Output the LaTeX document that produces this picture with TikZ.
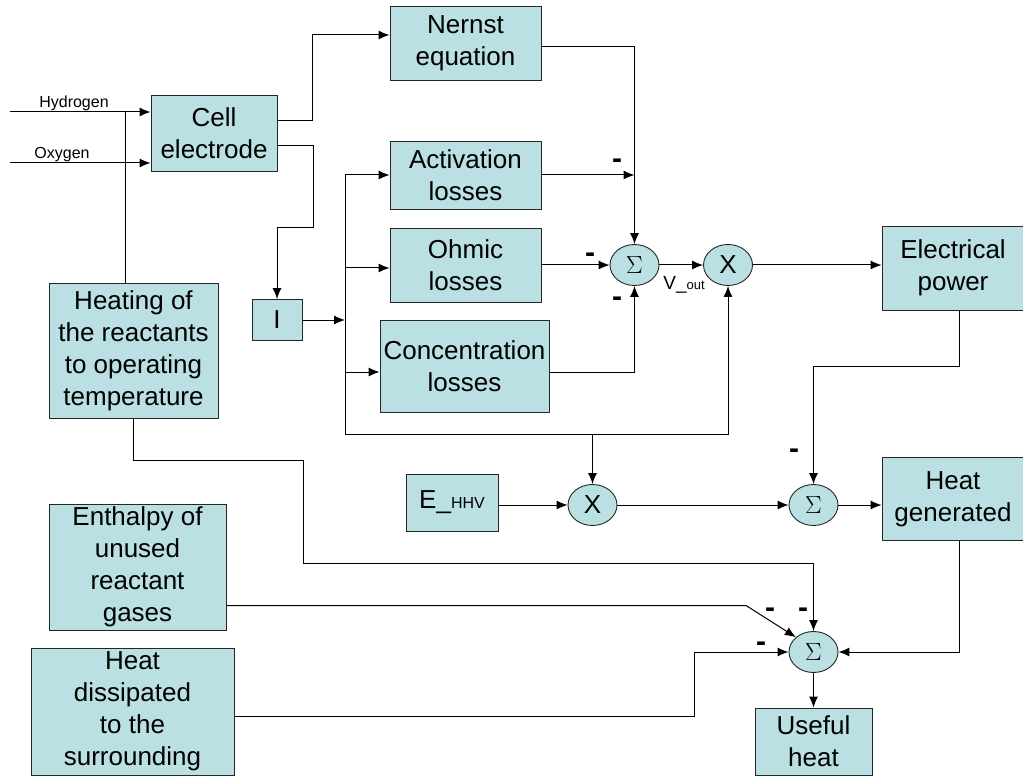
\documentclass[tikz,border=0pt]{standalone}
\usepackage{fontspec}
\setmainfont{Liberation Sans}
\usetikzlibrary{arrows.meta,shapes.geometric}
\definecolor{boxc}{RGB}{187,224,227}
\begin{document}
\begin{tikzpicture}[x=1pt,y=-1pt,
  blk/.style={draw=black!85, fill=boxc, line width=0.9pt, inner sep=0pt, align=center,
    font=\fontsize{26}{32}\selectfont},
  op/.style={ellipse, draw=black!85, fill=boxc, line width=0.9pt, minimum width=49pt, minimum height=41pt, inner sep=0pt},
  arr/.style={-{Latex[length=11pt,width=9pt]}},
  ln/.style={line width=1pt, black},
  minus/.style={font=\bfseries\fontsize{30}{30}\selectfont, inner sep=0pt},
  small/.style={font=\fontsize{16}{16}\selectfont, inner sep=0pt}]
\useasboundingbox (0,0) rectangle (1023,778);
% blocks
\node[blk, minimum width=151pt, minimum height=74pt] (nernst) at (465.5,43) {Nernst\\equation};
\node[blk, minimum width=126pt, minimum height=76pt] (cell) at (214,133) {Cell\\electrode};
\node[blk, minimum width=151pt, minimum height=68pt] (act) at (465.5,175) {Activation\\losses};
\node[blk, minimum width=151pt, minimum height=74pt] (ohm) at (465.5,265) {Ohmic\\losses};
\node[blk, minimum width=169pt, minimum height=92pt] (conc) at (464.5,366) {Concentration\\losses};
\node[blk, minimum width=50pt, minimum height=41pt] (I) at (277,320) {I};
\node[blk, minimum width=169pt, minimum height=135pt] (heat) at (133.5,350.5) {Heating of\\the reactants\\to operating\\temperature};
\node[blk, minimum width=142pt, minimum height=84pt] (elec) at (953,268) {Electrical\\power};
\node[blk, minimum width=142pt, minimum height=83pt] (hg) at (953,499) {Heat\\generated};
\node[blk, minimum width=92pt, minimum height=57pt] (ehhv) at (452,502.5) {E\_{\fontsize{16}{16}\selectfont HHV}};
\node[blk, minimum width=177pt, minimum height=126pt] (enth) at (137.5,567) {Enthalpy of\\unused\\reactant\\gases};
\node[blk, minimum width=203pt, minimum height=127pt] (diss) at (132.5,711.5) {Heat\\dissipated\\to the\\surrounding};
\node[blk, minimum width=117pt, minimum height=67pt] (useful) at (813.5,741.5) {Useful\\heat};
% operators
\node[op, font=\fontsize{23}{23}\selectfont] (sum1) at (634.5,265) {$\Sigma$};
\node[op, font=\fontsize{26}{26}\selectfont] (x1) at (728,265) {X};
\node[op, font=\fontsize{26}{26}\selectfont] (x2) at (592.5,505) {X};
\node[op, font=\fontsize{23}{23}\selectfont] (sum2) at (813.5,505) {$\Sigma$};
\node[op, font=\fontsize{23}{23}\selectfont] (sum3) at (813.5,652) {$\Sigma$};
% inputs
\coordinate (h0) at (10,112);
\coordinate (o0) at (10,163);
\coordinate (hj) at (125,112);
\draw[ln,arr] (h0) -- (cell.west |- h0);
\draw[ln,arr] (o0) -- (cell.west |- o0);
\draw[ln] (hj) -- (hj |- heat.north);
\node[small, anchor=base] (hl) at (74,108) {Hydrogen};
\node[small, anchor=base] (ol) at (62,159) {Oxygen};
% cell outputs
\draw[ln,arr] ([yshift=12pt]cell.east) -- ++(35,0) |- ([yshift=8pt]nernst.west);
\draw[ln,arr] ([yshift=-13pt]cell.east) -- ++(36,0) -- ++(0,82) -| (I.north);
% current distribution
\coordinate (jm) at (345,320);
\coordinate (jt) at (345,175);
\coordinate (jo) at (345,268);
\coordinate (jc) at (345,372);
\coordinate (jb) at (345,434);
\coordinate (jx) at (592.5,434);
\draw[ln,arr] (I.east) -- (jm);
\draw[ln,arr] (jt) -- (act.west |- jt);
\draw[ln,arr] (jo) -- (ohm.west |- jo);
\draw[ln,arr] (jc) -- (conc.west |- jc);
\draw[ln,arr] (jt) -- (jb) -| (x1.south);
\draw[ln,arr] (jx) -- (x2.north);
% into sum1
\draw[ln,arr] ([yshift=-4pt]nernst.east) -| (sum1.north);
\draw[ln,arr] (act.east) -- (act.east -| sum1.north);
\draw[ln,arr] (ohm.east |- sum1.west) -- (sum1.west);
\draw[ln,arr] (conc.east |- jc) -| (sum1.south);
\node[minus] (m1) at (617,164) {-};
\node[minus] (m2) at (590,258) {-};
\node[minus] (m3) at (617,302) {-};
% sum1 -> x1 -> power
\draw[ln,arr] (sum1.east) -- (x1.west);
\node[font=\fontsize{19}{19}\selectfont, inner sep=0pt, anchor=base] (vout) at (684,290) {V\_{\fontsize{13}{13}\selectfont out}};
\draw[ln,arr] (x1.east) -- (elec.west |- x1.east);
% power -> sum2
\coordinate (ex) at (959,0);
\draw[ln,arr] (elec.south -| ex) -- ++(0,56) -| (sum2.north);
\node[minus] (m4) at (794,454) {-};
% E_HHV chain
\draw[ln,arr] (ehhv.east |- x2.west) -- (x2.west);
\draw[ln,arr] (x2.east) -- (sum2.west);
\draw[ln,arr] (sum2.east) -- (hg.west |- sum2.east);
% heat generated -> sum3
\draw[ln,arr] (hg.south -| ex) |- (sum3.east);
% heating -> sum3
\coordinate (hh1) at (303,460);
\coordinate (hh2) at (813.5,563);
\draw[ln,arr] (heat.south) |- (hh1) |- (hh2) -- (sum3.north);
% enthalpy -> sum3
\coordinate (en1) at (746,605.5);
\draw[ln,arr] (enth.east |- en1) -- (en1) -- (sum3.north west);
% dissipated -> sum3
\coordinate (ds1) at (694,716);
\draw[ln,arr] (diss.east |- ds1) -- (ds1) |- (sum3.west);
\node[minus] (m5) at (770,613) {-};
\node[minus] (m6) at (803,613) {-};
\node[minus] (m7) at (761,647) {-};
% sum3 -> useful
\draw[ln,arr] (sum3.south) -- (useful.north);
\end{tikzpicture}
\end{document}
